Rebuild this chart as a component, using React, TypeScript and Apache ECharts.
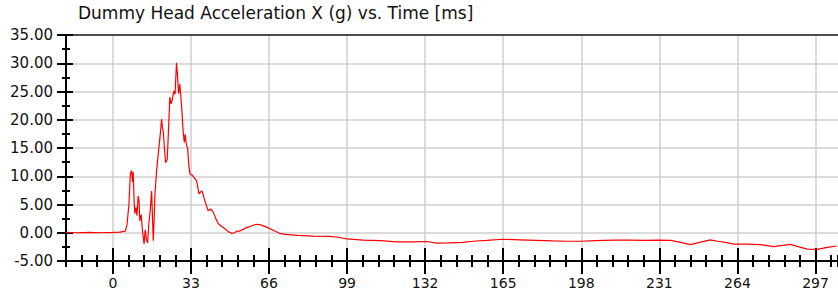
import React, { useEffect, useRef } from "react";
import * as echarts from "echarts";

const titleText = "Dummy Head Acceleration X (g) vs. Time [ms]";

const timeMs = [
  -19.8, -15, -10, -5, 0, 3, 4.5, 5.3, 6, 6.8, 7.4, 7.9, 8.3, 8.6, 9, 9.3, 9.8, 10.2, 10.7, 11.1,
  11.4, 12, 12.5, 13.2, 13.7, 14.2, 14.7, 15.2, 15.8, 16.4, 16.8, 17.1, 17.5, 17.8, 18.5, 19.2,
  19.9, 20.6, 21.0, 21.3, 21.8, 22.3, 23, 23.5, 24.1, 24.6, 25.1, 25.8, 26.3, 26.9, 27.3, 27.8,
  28.3, 29.1, 29.7, 30.2, 30.6, 31.1, 31.6, 32.1, 32.6, 33.5, 34.3, 35.4, 36.4, 37.1, 37.7, 39,
  40.3, 41.3, 42.4, 43.5, 44.6, 46, 47.4, 48.8, 50.2, 51.5, 52.5, 53.7, 55, 56.6, 58.5, 60.8,
  62.5, 65, 68, 70.5, 73, 78, 84.6, 91.8, 95, 98.9, 105.9, 113, 120, 127, 132.7, 137, 142, 148,
  152.4, 158, 165, 172, 179, 186, 192, 197.6, 204, 211.7, 218, 225, 230, 235.7, 240, 244.1, 248,
  252.6, 255.5, 259.6, 262.4, 268, 273.7, 279.4, 283, 286.4, 290, 293.5, 297.7, 302, 306,
];

const accelG = [
  0.05, 0.0, 0.05, 0.0, 0.05, 0.1, 0.25, 0.3, 1.5, 5, 10.5, 11.0, 9, 10.8, 5.5, 3.4, 4.5, 3.0, 6.5, 5.5,
  2.1, 3.2, 0.5, -2.0, 0.5, -1.2, -1.8, 1.5, 4, 7.4, 2, -1.4, 3, 6.9, 11, 14,
  16.8, 20.1, 18.5, 18.0, 15, 12.4, 13, 18, 24.0, 22.8, 23.5, 25.1, 24.5, 30.1, 28, 24.6,
  26.3, 22.2, 18, 16.0, 17.4, 15.5, 15.1, 12, 10.4, 10.2, 9.8, 9.2, 6.9, 7.2, 7.4, 5.5,
  3.9, 4.2, 3.7, 2.5, 1.6, 1.1, 0.7, 0.2, -0.1, 0.0, 0.3, 0.3, 0.6, 0.9, 1.2, 1.5,
  1.4, 1.0, 0.4, -0.1, -0.3, -0.45, -0.6, -0.65, -0.8, -1.1, -1.3, -1.4, -1.6, -1.6, -1.55, -1.85, -1.8, -1.7,
  -1.5, -1.35, -1.15, -1.25, -1.35, -1.45, -1.5, -1.5, -1.4, -1.3, -1.3, -1.35, -1.3, -1.35, -1.7, -2.1, -1.7,
  -1.25, -1.5, -1.75, -2.0, -2.0, -2.1, -2.45, -2.25, -2.05, -2.5, -2.9, -2.95, -2.6, -2.35,
];

const xMajorTicks = [0, 33, 66, 99, 132, 165, 198, 231, 264, 297];
const xMin = -19.8;
const xMax = 306.5;
const xMinorStep = 6.6;
const yMin = -5;
const yMax = 35;
const yStep = 5;

const FONT = "DejaVu Sans, Verdana, sans-serif";

export default function App() {
  const ref = useRef<HTMLDivElement>(null);
  useEffect(() => {
    if (!ref.current) return;
    const chart = echarts.init(ref.current, null, { renderer: "svg" });
    const data = timeMs.map((t, i) => [t, accelG[i]]);
    const hidden = { show: false };
    const noLine = { show: false, onZero: false };
    const baseX = { type: "value", min: xMin, max: xMax, position: "bottom" };
    chart.setOption({
      animation: false,
      backgroundColor: "#ffffff",
      title: {
        text: titleText,
        left: 78,
        top: 4,
        padding: 0,
        textStyle: { fontFamily: FONT, fontSize: 17, fontWeight: "normal", color: "#111" },
      },
      grid: { left: 66, top: 35, width: 772, height: 226, containLabel: false },
      xAxis: [
        {
          ...baseX,
          axisLine: { show: true, onZero: false, lineStyle: { color: "#000", width: 2 } },
          axisTick: { show: true, customValues: xMajorTicks, length: 13, lineStyle: { color: "#000", width: 2 } },
          axisLabel: {
            show: true,
            customValues: xMajorTicks,
            margin: 15,
            fontFamily: FONT,
            fontSize: 14,
            color: "#111",
            formatter: (v: number) => String(Math.round(v)),
          },
          splitLine: { show: true, lineStyle: { color: "#cfcfcf", width: 1.5 } },
        },
        {
          ...baseX,
          axisLine: noLine,
          axisTick: { show: true, inside: true, customValues: xMajorTicks, length: 13, lineStyle: { color: "#000", width: 2 } },
          axisLabel: hidden,
          splitLine: hidden,
        },
        {
          ...baseX,
          interval: xMinorStep,
          axisLine: noLine,
          axisTick: { show: true, length: 6, lineStyle: { color: "#000", width: 2 } },
          axisLabel: hidden,
          splitLine: hidden,
        },
        {
          ...baseX,
          interval: xMinorStep,
          axisLine: noLine,
          axisTick: { show: true, inside: true, length: 6, lineStyle: { color: "#000", width: 2 } },
          axisLabel: hidden,
          splitLine: hidden,
        },
        {
          type: "value",
          min: xMin,
          max: xMax,
          position: "top",
          axisLine: { show: true, onZero: false, lineStyle: { color: "#4d4d4d", width: 2 } },
          axisTick: hidden,
          axisLabel: hidden,
          splitLine: hidden,
        },
      ],
      yAxis: [
        {
          type: "value",
          min: yMin,
          max: yMax,
          interval: yStep,
          position: "left",
          axisLine: { show: true, onZero: false, lineStyle: { color: "#000", width: 2 } },
          axisTick: { show: true, length: 9, lineStyle: { color: "#000", width: 2 } },
          minorTick: { show: true, splitNumber: 2, length: 4, lineStyle: { color: "#000", width: 2 } },
          axisLabel: {
            show: true,
            margin: 13,
            fontFamily: FONT,
            fontSize: 15,
            color: "#111",
            formatter: (v: number) => v.toFixed(2),
          },
          splitLine: { show: true, lineStyle: { color: "#cfcfcf", width: 1.5 } },
        },
        {
          type: "value",
          min: yMin,
          max: yMax,
          interval: yStep,
          position: "left",
          axisLine: noLine,
          axisTick: { show: true, inside: true, length: 7, lineStyle: { color: "#000", width: 2 } },
          minorTick: { show: true, splitNumber: 2, length: 4, lineStyle: { color: "#000", width: 2 } },
          axisLabel: hidden,
          splitLine: hidden,
        },
      ],
      series: [
        {
          type: "line",
          xAxisIndex: 0,
          yAxisIndex: 0,
          data,
          showSymbol: false,
          symbol: "none",
          clip: true,
          lineStyle: { color: "#ff0000", width: 1.2 },
        },
      ],
    });
    return () => chart.dispose();
  }, []);
  return (
    <div
      ref={ref}
      style={{ position: "fixed", left: 0, top: 0, width: 838, height: 297, background: "#fff" }}
    />
  );
}
